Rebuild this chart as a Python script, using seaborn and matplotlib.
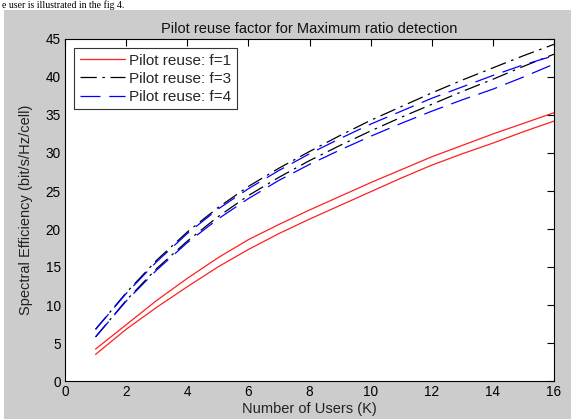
import numpy as np
import pandas as pd
import matplotlib
matplotlib.use("Agg")
import matplotlib.pyplot as plt
import seaborn as sns
from matplotlib.patches import Rectangle

# ---- data ----
users = list(range(1, 17))
red_hi = [4.2, 7.4, 10.6, 13.5, 16.2, 18.6, 20.6, 22.5, 24.3, 26.1, 27.8, 29.5, 31.0, 32.5, 33.9, 35.3]
red_lo = [3.5, 6.8, 9.7, 12.4, 15.0, 17.3, 19.4, 21.3, 23.1, 24.9, 26.7, 28.4, 29.9, 31.3, 32.8, 34.2]
black_hi = [6.8, 11.6, 15.9, 19.6, 22.8, 25.6, 28.0, 30.2, 32.3, 34.3, 36.1, 37.9, 39.6, 41.2, 42.8, 44.3]
black_lo = [5.8, 10.6, 14.8, 18.4, 21.6, 24.4, 26.8, 29.0, 31.0, 32.9, 34.7, 36.4, 38.1, 39.7, 41.4, 43.0]
blue_hi = [6.8, 11.5, 15.7, 19.4, 22.6, 25.3, 27.7, 29.9, 31.9, 33.8, 35.5, 37.2, 38.7, 40.2, 41.6, 42.8]
blue_lo = [5.8, 10.5, 14.6, 18.2, 21.3, 24.0, 26.4, 28.5, 30.4, 32.2, 33.9, 35.5, 37.0, 38.4, 40.0, 41.7]
legend_labels = ["Pilot reuse: f=1", "Pilot reuse: f=3", "Pilot reuse: f=4"]
x_ticks = list(range(0, 17, 2))
y_ticks = list(range(0, 46, 5))

sns.set_theme(style="white")
plt.rcParams["font.family"] = ["Liberation Sans", "DejaVu Sans"]

W, H = 571, 419
fig = plt.figure(figsize=(W / 100, H / 100), dpi=100, facecolor="white")
# grey matlab background
fig.patches.append(Rectangle((4 / W, 0), 1, (H - 10) / H, transform=fig.transFigure,
                             facecolor="#cccccc", edgecolor="none", zorder=-10))
fig.text(2 / W, 1 - 0.5 / H, "e user is illustrated in the fig 4.", family="Liberation Serif",
         fontsize=7, color="black", va="top", ha="left")

ax = fig.add_axes([65 / W, 38 / H, 489 / W, 342 / H])
ax.set_facecolor("white")

series = [
    (red_hi, "#ff2020", None, legend_labels[0]),
    (red_lo, "#ff2020", None, None),
    (black_hi, "black", (13, 4.5, 2, 4.5), legend_labels[1]),
    (black_lo, "black", (13, 4.5, 2, 4.5), None),
    (blue_hi, "blue", (16, 7), legend_labels[2]),
    (blue_lo, "blue", (16, 7), None),
]
handles = []
for vals, col, dash, lab in series:
    df = pd.DataFrame({"K": users, "SE": vals})
    sns.lineplot(data=df, x="K", y="SE", ax=ax, color=col, linewidth=0.9, legend=False)
    ln = ax.lines[-1]
    if dash is not None:
        ln.set_dashes(dash)
    if lab is not None:
        ln.set_label(lab)
        handles.append(ln)

ax.set_xlim(0, 16)
ax.set_ylim(0, 45)
ax.set_xticks(x_ticks)
ax.set_yticks(y_ticks)
ax.tick_params(direction="in", length=5, width=0.8, top=True, right=True,
               labelsize=9.8, colors="black", pad=3)
for sp in ax.spines.values():
    sp.set_color("black")
    sp.set_linewidth(0.8)

ax.set_xlabel("Number of Users (K)", fontsize=10.5, color="#222222", labelpad=2)
ax.set_ylabel("Spectral Efficiency (bit/s/Hz/cell)", fontsize=10.5, color="#222222", labelpad=9)
ax.set_title("Pilot reuse factor for Maximum ratio detection", fontsize=10.5, color="#111111", pad=4)

leg = ax.legend(handles=handles, loc="upper left", fontsize=11, frameon=True, fancybox=False,
                handlelength=3.0, handletextpad=0.25, borderaxespad=0.6, labelspacing=0.28,
                borderpad=0.35)
leg.get_frame().set_edgecolor("black")
leg.get_frame().set_linewidth(0.8)

fig.savefig("out.png", dpi=100, facecolor="white")
